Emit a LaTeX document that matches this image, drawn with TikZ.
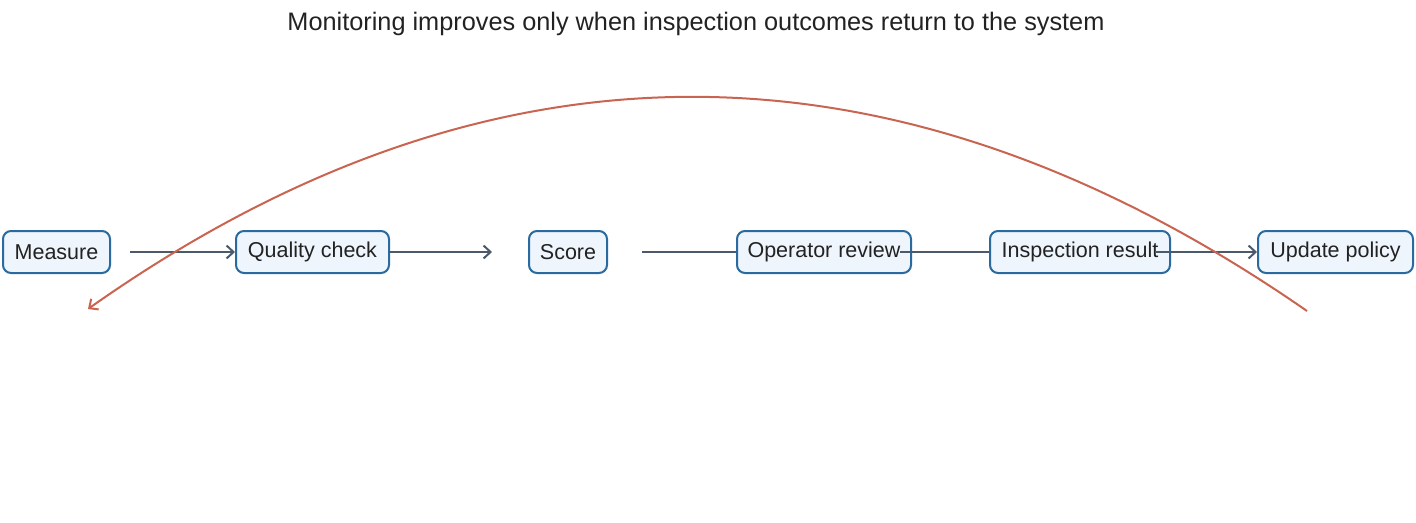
\documentclass[tikz,border=0pt]{standalone}
\usepackage{fontspec}
\setmainfont{Liberation Sans}
\usetikzlibrary{arrows.meta}
\definecolor{boxfill}{HTML}{EEF5FC}
\definecolor{boxdraw}{HTML}{2A6A9E}
\definecolor{flow}{HTML}{4A5A6A}
\definecolor{loopc}{HTML}{C86450}
\definecolor{txt}{HTML}{222222}
\begin{document}
\begin{tikzpicture}[x=1pt,y=-1pt,
  box/.style={draw=boxdraw,fill=boxfill,line width=2pt,rounded corners=8pt,minimum height=42pt,inner xsep=6pt,font=\fontsize{21.5}{24}\selectfont,text=txt},
  flowa/.style={draw=flow,line width=2pt,-{Straight Barb[length=7pt,width=13pt]}},
  flowl/.style={draw=flow,line width=2pt},
  loopa/.style={draw=loopc,line width=2pt,-{Straight Barb[length=7pt,width=13pt]}}]
\useasboundingbox (0,0) rectangle (1416,522);
\node[font=\fontsize{25.3}{30}\selectfont,text=txt] (title) at (696,24) {Monitoring improves only when inspection outcomes return to the system};
\node[box,minimum width=107pt] (m) at (56.5,252) {Measure};
\node[box,minimum width=153pt] (q) at (312.5,252) {Quality check};
\node[box,minimum width=78pt] (s) at (568,252) {Score};
\node[box,minimum width=174pt] (o) at (824,252) {Operator review};
\node[box,minimum width=180pt] (i) at (1080,252) {Inspection result};
\node[box,minimum width=155pt] (u) at (1335.5,252) {Update policy};
\coordinate (a1) at (130,252);
\coordinate (a2) at (389,252);
\coordinate (a2e) at (492,252);
\coordinate (a3) at (642,252);
\coordinate (a4) at (900,252);
\coordinate (a5) at (1155,252);
\coordinate (ls) at (1307,311);
\coordinate (le) at (88,309);
\draw[flowa] (a1) -- (q.west);
\draw[flowa] (a2) -- (a2e);
\draw[flowl] (a3) -- (o.west);
\draw[flowl] (a4) -- (i.west);
\draw[flowa] (a5) -- (u.west);
\draw[loopa] (ls) .. controls (896,26) and (489,26) .. (le);
\end{tikzpicture}
\end{document}
